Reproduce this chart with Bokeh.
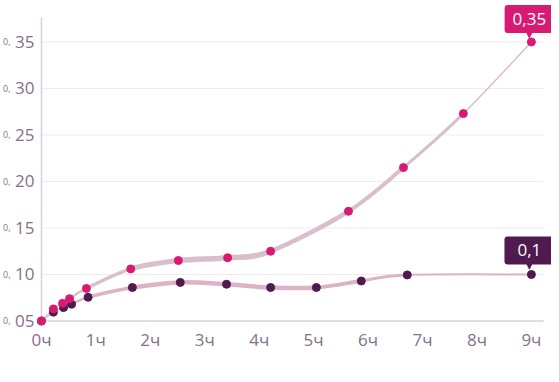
from bokeh.plotting import figure
from bokeh.models import Label, FixedTicker, Range1d, LinearAxis
from bokeh.embed import file_html
from bokeh.resources import INLINE

# ---- data ----
pink_x = [0, 0.219, 0.388, 0.516, 0.826, 1.64, 2.515, 3.42, 4.21, 5.64, 6.65, 7.75, 9.0]
pink_y = [0.05, 0.063, 0.069, 0.074, 0.085, 0.106, 0.115, 0.118, 0.125, 0.168, 0.215, 0.273, 0.35]
dark_x = [0, 0.219, 0.407, 0.553, 0.857, 1.67, 2.55, 3.40, 4.21, 5.05, 5.875, 6.72, 9.0]
dark_y = [0.05, 0.0595, 0.0645, 0.068, 0.0755, 0.086, 0.0915, 0.0895, 0.086, 0.086, 0.093, 0.0995, 0.10]
x_ticks = [0, 1, 2, 3, 4, 5, 6, 7, 8, 9]
x_tick_labels = ["0ч", "1ч", "2ч", "3ч", "4ч", "5ч", "6ч", "7ч", "8ч", "9ч"]
y_ticks = [0.05, 0.10, 0.15, 0.20, 0.25, 0.30, 0.35]
y_tick_labels = ["05", "10", "15", "20", "25", "30", "35"]
y_prefix = "0,"
pink_callout = "0,35"
dark_callout = "0,1"

PINK = "#d81b72"
DARK = "#4f1a4d"
TXT = "#85708a"
FONT = "Open Sans"

PX_PER_H = 54.86
LEFT = 31
X0 = -(37 - LEFT) / PX_PER_H
X1 = X0 + (551 - LEFT) / PX_PER_H
GRID_END = X0 + (543 - LEFT) / PX_PER_H
Y0, Y1 = 0.043, 0.3946
AXIS_TOP = 0.3763

p = figure(width=551, height=374, output_backend="svg", toolbar_location=None,
           x_range=Range1d(X0, X1), y_range=Range1d(Y0, Y1),
           min_border_left=LEFT, min_border_right=0, min_border_top=0,
           min_border_bottom=47)
p.outline_line_color = None
p.xgrid.visible = False
p.ygrid.visible = False
p.background_fill_color = "white"


def style_axis(ax, size):
    ax.axis_line_color = None
    ax.major_tick_line_color = None
    ax.minor_tick_line_color = None
    ax.major_tick_out = 0
    ax.major_tick_in = 0
    ax.major_label_text_color = TXT
    ax.major_label_text_font = FONT
    ax.major_label_text_font_size = size


style_axis(p.xaxis[0], "17px")
style_axis(p.yaxis[0], "17px")
p.xaxis[0].ticker = FixedTicker(ticks=x_ticks)
p.xaxis[0].major_label_overrides = {t: l for t, l in zip(x_ticks, x_tick_labels)}
p.xaxis[0].major_label_standoff = 0
p.yaxis[0].ticker = FixedTicker(ticks=y_ticks)
p.yaxis[0].major_label_overrides = {t: l for t, l in zip(y_ticks, y_tick_labels)}
p.yaxis[0].major_label_standoff = 1
p.yaxis[0].major_label_text_baseline = "alphabetic"

# small "0," prefix axis
pre = LinearAxis(ticker=FixedTicker(ticks=y_ticks))
style_axis(pre, "9px")
pre.major_label_overrides = {t: y_prefix for t in y_ticks}
pre.major_label_standoff = 2
pre.major_label_text_baseline = "alphabetic"
p.add_layout(pre, "left")

# grid lines (from tick list)
grid_vals = y_ticks[1:]
p.segment(x0=[0] * len(grid_vals), y0=grid_vals, x1=[GRID_END] * len(grid_vals), y1=grid_vals,
          line_color="#efebef", line_width=1)
# axis lines
p.segment(x0=[0, 0], y0=[y_ticks[0], y_ticks[0]], x1=[0, GRID_END], y1=[AXIS_TOP, y_ticks[0]],
          line_color="#dcd0da", line_width=1.5)


def bezier_cols(xs, ys):
    n = len(xs)
    px = [xs[0]] + list(xs) + [xs[-1]]
    py = [ys[0]] + list(ys) + [ys[-1]]
    d = dict(x0=[], y0=[], x1=[], y1=[], cx0=[], cy0=[], cx1=[], cy1=[])
    for i in range(n - 1):
        a, b, c, e = i, i + 1, i + 2, i + 3
        d["x0"].append(px[b]); d["y0"].append(py[b])
        d["x1"].append(px[c]); d["y1"].append(py[c])
        d["cx0"].append(px[b] + (px[c] - px[a]) / 6)
        d["cy0"].append(py[b] + (py[c] - py[a]) / 6)
        d["cx1"].append(px[c] - (px[e] - px[b]) / 6)
        d["cy1"].append(py[c] - (py[e] - py[b]) / 6)
    return d


pink_w = [1.2, 1.5, 1.8, 2.5, 3.5, 5, 5.5, 5.5, 4.5, 4, 3, 1.5]
dark_w = [1.2, 1.5, 1.8, 2.5, 3.5, 4.5, 4.5, 4.5, 4.5, 4, 3, 2]

db = bezier_cols(dark_x, dark_y)
db["w"] = dark_w
p.bezier(source=db, x0="x0", y0="y0", x1="x1", y1="y1", cx0="cx0", cy0="cy0",
         cx1="cx1", cy1="cy1", line_color="#dcb3c6", line_width="w")
pb = bezier_cols(pink_x, pink_y)
pb["w"] = pink_w
p.bezier(source=pb, x0="x0", y0="y0", x1="x1", y1="y1", cx0="cx0", cy0="cy0",
         cx1="cx1", cy1="cy1", line_color="#d8bfcd", line_width="w")

p.scatter(dark_x, dark_y, size=8, color=DARK)
p.scatter(pink_x, pink_y, size=8, color=PINK)


# callouts
def callout(x, y, text, color, yoff, hpad):
    p.add_layout(Label(x=x, y=y, x_offset=-2, y_offset=yoff, text=text, text_align="center",
                       text_baseline="bottom", text_font=FONT,
                       text_font_size="17px", text_color="white",
                       background_fill_color=color, border_radius=3,
                       padding=dict(left=hpad, right=hpad, top=8, bottom=8)))
    p.add_layout(Label(x=x, y=y, x_offset=-2, y_offset=yoff + 2, text="▼", text_align="center",
                       text_baseline="top", text_font="DejaVu Sans",
                       text_font_size="8px", text_color=color))


callout(pink_x[-1], pink_y[-1], pink_callout, PINK, 9, 8)
callout(dark_x[-1], dark_y[-1], dark_callout, DARK, 10, 13)

open("out.html", "w").write(file_html(p, INLINE))
